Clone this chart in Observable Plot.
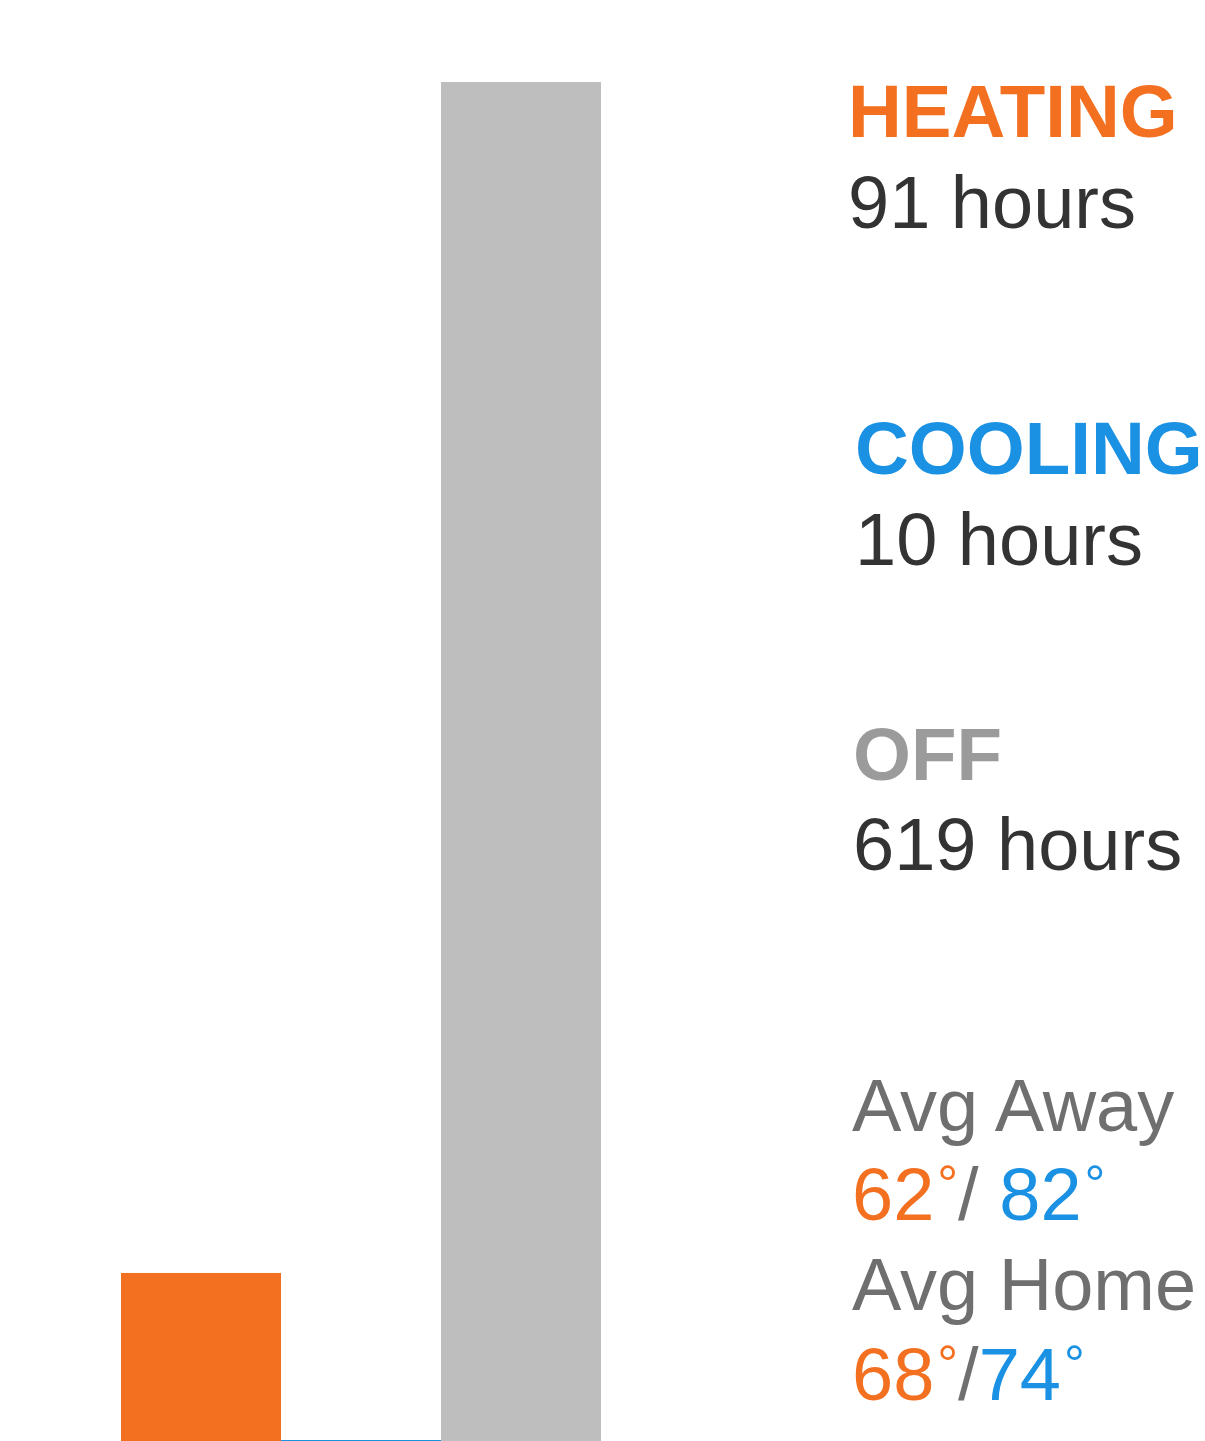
<!DOCTYPE html>
<html>
<head>
<meta charset="utf-8">
<script src="https://cdn.jsdelivr.net/npm/d3@7"></script>
<script src="https://cdn.jsdelivr.net/npm/@observablehq/plot@0.6"></script>
<style>
  html, body { margin: 0; padding: 0; background: #ffffff; }
  #wrap { position: relative; width: 1205px; height: 1441px; overflow: hidden; }
  #wrap > svg.overlay { position: absolute; left: 0; top: 0; pointer-events: none; }
</style>
</head>
<body>
<div id="wrap"></div>
<script>
// ---- data ----
const modes = ["Heating", "Cooling", "Off"];
const hours = [91, 10, 619];
const modeColors = ["#F37021", "#1B91E3", "#BEBEBE"];
const modeTitles = ["HEATING", "COOLING", "OFF"];
const titleColors = ["#F37021", "#1B91E3", "#9B9B9B"];
const avgLabels = ["Avg Away", "Avg Home"];
const avgHeat = [62, 68];
const avgCool = [82, 74];
const avgSeparators = ["/ ", "/"];

const data = modes.map((m, i) => ({mode: m, hours: hours[i]}));

const chart = Plot.plot({
  width: 1205,
  height: 1441,
  marginTop: 82,
  marginBottom: 0,
  marginLeft: 120,
  marginRight: 603,
  style: {background: "#ffffff"},
  x: {domain: modes, padding: 0, axis: null},
  y: {domain: [16.5, 619], clamp: true, axis: null},
  color: {domain: modes, range: modeColors},
  marks: [
    Plot.barY(data, {x: "mode", y: "hours", fill: "mode"}),
    Plot.tickY(data.filter(d => d.mode === "Cooling"), {x: "mode", y: "hours", stroke: "mode", strokeWidth: 3})
  ]
});
const wrap = document.getElementById("wrap");
wrap.appendChild(chart);

// ---- legend / annotation text ----
const font = "'Liberation Sans', Arial, Helvetica, sans-serif";
const ov = d3.select(wrap).append("svg")
  .attr("class", "overlay")
  .attr("width", 1205).attr("height", 1441)
  .style("font-family", font)
  .style("font-size", "74px");

const groupX = [848, 855, 853];
const titleBaselines = [137, 473.5, 780];
const valueBaselines = [227.5, 564.5, 869.5];

modes.forEach((m, i) => {
  ov.append("text")
    .attr("x", groupX[i]).attr("y", titleBaselines[i])
    .attr("fill", titleColors[i])
    .style("font-weight", "bold")
    .style("font-size", "74.5px")
    .text(modeTitles[i]);
  ov.append("text")
    .attr("x", groupX[i]).attr("y", valueBaselines[i])
    .attr("fill", "#333333")
    .text(`${hours[i]} hours`);
});

const avgLabelBaselines = [1131, 1309.5];
const avgValueBaselines = [1219.5, 1399.5];
function degree(t, color) {
  t.append("tspan").attr("fill", color).attr("dx", 3).attr("dy", -18)
    .style("font-size", "52px").text("\u00B0");
}
avgLabels.forEach((lab, i) => {
  ov.append("text")
    .attr("x", 852).attr("y", avgLabelBaselines[i])
    .attr("fill", "#6F6F6F")
    .text(lab);
  const t = ov.append("text")
    .attr("x", 852).attr("y", avgValueBaselines[i])
    .attr("xml:space", "preserve")
    .style("white-space", "pre");
  t.append("tspan").attr("fill", "#F37021").text(`${avgHeat[i]}`);
  degree(t, "#F37021");
  t.append("tspan").attr("fill", "#6F6F6F").attr("dy", 18).text(avgSeparators[i]);
  t.append("tspan").attr("fill", "#1B91E3").text(`${avgCool[i]}`);
  degree(t, "#1B91E3");
});
</script>
</body>
</html>
